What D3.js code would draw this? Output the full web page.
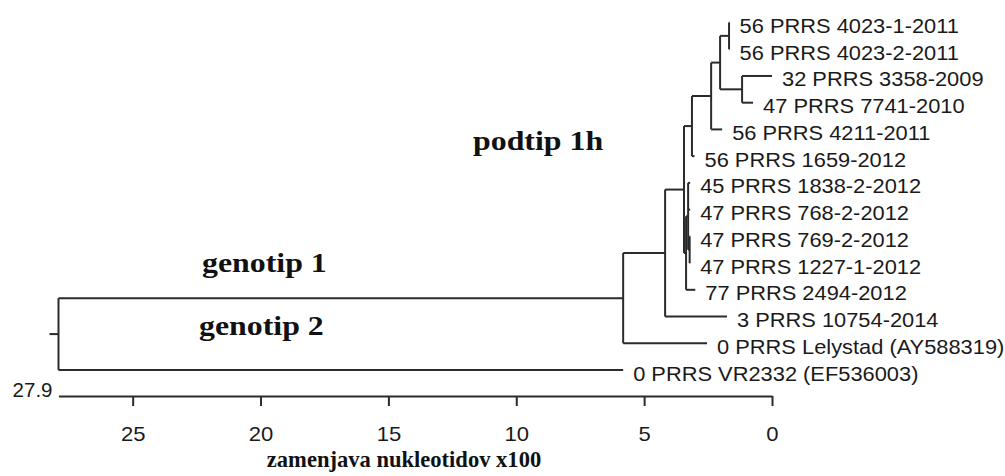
<!DOCTYPE html>
<html>
<head>
<meta charset="utf-8">
<script src="https://cdn.jsdelivr.net/npm/d3@7"></script>
<style>
body { margin: 0; background: #fff; }
svg { display: block; }
</style>
</head>
<body>
<svg width="1005" height="476"></svg>
<script>
// leaves, top to bottom
var tipNames = ['56 PRRS 4023-1-2011', '56 PRRS 4023-2-2011', '32 PRRS 3358-2009', '47 PRRS 7741-2010',
  '56 PRRS 4211-2011', '56 PRRS 1659-2012', '45 PRRS 1838-2-2012', '47 PRRS 768-2-2012',
  '47 PRRS 769-2-2012', '47 PRRS 1227-1-2012', '77 PRRS 2494-2012', '3 PRRS 10754-2014',
  '0 PRRS Lelystad (AY588319)', '0 PRRS VR2332 (EF536003)'];
var tipParents = ['G', 'G', 'H', 'H', 'E', 'D', 'J', 'J', 'K', 'K', 'I', 'B', 'A', 'root'];
var tipValues = [1.66, 1.66, 0.0, 0.74, 1.95, 3.03, 3.2, 3.2, 3.2, 3.2, 3.0, 1.76, 2.54, 5.82];

// internal nodes
var nodeNames = ['root', 'A', 'B', 'C', 'D', 'E', 'F', 'G', 'H', 'I', 'J', 'K'];
var nodeParents = ['', 'root', 'A', 'B', 'C', 'D', 'E', 'F', 'F', 'C', 'I', 'J'];
var nodeValues = [27.9, 5.82, 4.18, 3.44, 3.13, 2.38, 2.03, 1.68, 1.17, 3.36, 3.28, 3.22];

var axisTicks = [25, 20, 15, 10, 5, 0];
var axisTitle = 'zamenjava nukleotidov x100';

var svg = d3.select('svg');
var lineColor = '#2b2b2b';
var sans = 'Liberation Sans, Arial, sans-serif';
var serif = 'Liberation Serif, Times New Roman, serif';

var x = d3.scaleLinear().domain([27.9, 0]).range([58.5, 772]);
var y = d3.scalePoint().domain(tipNames).range([22.5, 370]);

var rows = nodeNames.map(function(n, i) {
  return { id: n, parent: nodeParents[i], value: nodeValues[i] };
}).concat(tipNames.map(function(n, i) {
  return { id: n, parent: tipParents[i], value: tipValues[i], leaf: i };
}));

var root = d3.stratify()
  .id(function(d) { return d.id; })
  .parentId(function(d) { return d.parent; })(rows);

root.eachAfter(function(n) {
  n.minLeaf = n.children ? d3.min(n.children, function(c) { return c.minLeaf; }) : n.data.leaf;
});
root.sort(function(a, b) { return a.minLeaf - b.minLeaf; });
root.eachAfter(function(n) {
  n.px = x(n.data.value);
  if (n.children) {
    n.py = (n.children[0].py + n.children[n.children.length - 1].py) / 2;
  } else {
    n.py = y(n.id);
  }
});

var tree = svg.append('g')
  .attr('fill', 'none')
  .attr('stroke', lineColor)
  .attr('stroke-width', 2);

// horizontal branches
tree.selectAll('line.h')
  .data(root.descendants().filter(function(d) { return d.parent; }))
  .enter()
  .append('line')
  .attr('class', 'h')
  .attr('x1', function(d) { return d.parent.px; })
  .attr('x2', function(d) { return d.px; })
  .attr('y1', function(d) { return d.py; })
  .attr('y2', function(d) { return d.py; });

// vertical connectors
tree.selectAll('line.v')
  .data(root.descendants().filter(function(d) { return d.children; }))
  .enter()
  .append('line')
  .attr('class', 'v')
  .attr('x1', function(d) { return d.px; })
  .attr('x2', function(d) { return d.px; })
  .attr('y1', function(d) { return d.children[0].py; })
  .attr('y2', function(d) { return d.children[d.children.length - 1].py; });

// root stub
tree.append('line')
  .attr('x1', root.px - 9).attr('x2', root.px)
  .attr('y1', root.py).attr('y2', root.py);

// leaf labels
svg.selectAll('text.tip')
  .data(root.leaves())
  .enter()
  .append('text')
  .attr('class', 'tip')
  .attr('transform', function(d) {
    return 'translate(' + (d.px + 10) + ',' + (d.py + 10.5) + ') scale(1.066,1)';
  })
  .style('font-family', sans)
  .style('font-size', '20.5px')
  .style('fill', '#1a1a1a')
  .text(function(d) { return d.id; });

// axis
var axis = svg.append('g')
  .attr('transform', 'translate(0,396)')
  .call(d3.axisBottom(x).tickValues(axisTicks).tickSize(10).tickSizeOuter(0).tickPadding(20));
axis.select('.domain').attr('stroke', lineColor).attr('stroke-width', 2);
axis.selectAll('.tick line').attr('stroke', lineColor).attr('stroke-width', 2);
axis.selectAll('.tick text')
  .attr('transform', 'scale(1.05,1)')
  .style('font-family', sans)
  .style('font-size', '21px')
  .style('fill', '#1a1a1a');

svg.append('text')
  .attr('x', x(root.data.value) - 6)
  .attr('y', 397)
  .attr('text-anchor', 'end')
  .style('font-family', sans)
  .style('font-size', '20.5px')
  .style('fill', '#1a1a1a')
  .text(d3.format('.1f')(root.data.value));

svg.append('text')
  .attr('transform', 'translate(404,467) scale(0.94,1)')
  .attr('text-anchor', 'middle')
  .style('font-family', serif)
  .style('font-weight', 'bold')
  .style('font-size', '24px')
  .style('fill', '#111')
  .text(axisTitle);

// clade labels
var nodeA = root.children[0];
var cladeLabels = [
  { text: 'podtip 1h', x: 473, y: 150 },
  { text: 'genotip 1', x: 202, y: nodeA.py - 26 },
  { text: 'genotip 2', x: 199, y: root.py + 1 }
];
svg.selectAll('text.clade')
  .data(cladeLabels)
  .enter()
  .append('text')
  .attr('class', 'clade')
  .attr('transform', function(d) { return 'translate(' + d.x + ',' + d.y + ') scale(1.18,1)'; })
  .style('font-family', serif)
  .style('font-weight', 'bold')
  .style('font-size', '27px')
  .style('fill', '#111')
  .text(function(d) { return d.text; });
</script>
</body>
</html>
